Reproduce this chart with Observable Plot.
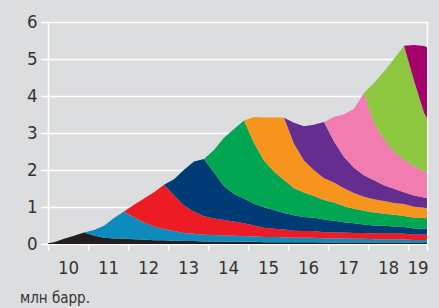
<!DOCTYPE html>
<html><head><meta charset="utf-8">
<script src="https://cdn.jsdelivr.net/npm/d3@7"></script>
<script src="https://cdn.jsdelivr.net/npm/@observablehq/plot@0.6"></script>
<style>
html,body{margin:0;padding:0;background:#dcdddf;width:439px;height:308px;overflow:hidden;}
#chart{position:absolute;left:0;top:0;}
#cap{position:absolute;left:20px;top:289px;font-size:15px;font-family:"Liberation Sans Narrow","DejaVu Sans Condensed","Roboto",sans-serif;font-stretch:condensed;color:#333;}
</style></head><body>
<div id="chart"></div>
<div id="cap">млн барр.</div>
<script>
// quarterly sample dates (fractional years)
const times = [2009.9, 2010.15, 2010.4, 2010.65, 2010.9, 2011.15, 2011.4, 2011.65, 2011.9, 2012.15,
  2012.4, 2012.65, 2012.9, 2013.15, 2013.4, 2013.65, 2013.9, 2014.15, 2014.4, 2014.65,
  2014.9, 2015.15, 2015.4, 2015.65, 2015.9, 2016.15, 2016.4, 2016.65, 2016.9, 2017.15,
  2017.4, 2017.65, 2017.9, 2018.15, 2018.4, 2018.65, 2018.9, 2019.15, 2019.4, 2019.65];

const vintages = ["2010", "2011", "2012", "2013", "2014", "2015", "2016", "2017", "2018", "2019"];
const colors = ["#231f20", "#0d8bbd", "#ed1c24", "#003b75", "#00a651", "#f7941d", "#662d91", "#f07cb0", "#8dc63f", "#a5006b"];

// production by well vintage, mln barrels per day
const s2010 = [0,0.05,0.14,0.22,0.31, 0.23,0.17,0.15,0.14,0.13, 0.12,0.10,0.10,0.09,0.08, 0.08,0.07,0.07,0.07,0.06, 0.06,0.06,0.05,0.05,0.05, 0.05,0.05,0.05,0.04,0.04, 0.04,0.04,0.04,0.04,0.04, 0.04,0.04,0.03,0.03,0.03];
const s2011 = [0,0,0,0,0, 0.15,0.32,0.55,0.74,0.59, 0.46,0.37,0.30,0.26,0.22, 0.20,0.18,0.17,0.16,0.16, 0.15,0.15,0.14,0.14,0.13, 0.12,0.12,0.12,0.11,0.11, 0.11,0.10,0.10,0.09,0.09, 0.09,0.08,0.08,0.08,0.08];
const s2012 = [0,0,0,0,0, 0,0,0,0,0.34, 0.65,0.93,1.20,0.97,0.74, 0.59,0.50,0.45,0.42,0.39, 0.35,0.29,0.25,0.22,0.21, 0.19,0.18,0.18,0.17,0.17, 0.16,0.16,0.16,0.16,0.16, 0.16,0.16,0.15,0.15,0.15];
const s2013 = [0,0,0,0,0, 0,0,0,0,0, 0,0,0,0.43,0.97, 1.36,1.55,1.24,0.91,0.74, 0.67,0.59,0.55,0.51,0.45, 0.42,0.38,0.36,0.34,0.31, 0.28,0.26,0.23,0.21,0.20, 0.18,0.18,0.16,0.16,0.15];
const s2014 = [0,0,0,0,0, 0,0,0,0,0, 0,0,0,0,0, 0,0,0.61,1.31,1.76, 2.11,1.64,1.27,1.04,0.89, 0.73,0.66,0.59,0.53,0.49, 0.43,0.39,0.37,0.35,0.33, 0.32,0.30,0.29,0.28,0.27];
const s2015 = [0,0,0,0,0, 0,0,0,0,0, 0,0,0,0,0, 0,0,0,0,0, 0,0.70,1.16,1.46,1.68, 1.20,0.87,0.69,0.59,0.54, 0.49,0.43,0.38,0.36,0.34, 0.32,0.32,0.30,0.28,0.26];
const s2016 = [0,0,0,0,0, 0,0,0,0,0, 0,0,0,0,0, 0,0,0,0,0, 0,0,0,0,0, 0.57,0.92,1.23,1.52,1.11, 0.84,0.68,0.58,0.51,0.43, 0.38,0.32,0.30,0.28,0.26];
const s2017 = [0,0,0,0,0, 0,0,0,0,0, 0,0,0,0,0, 0,0,0,0,0, 0,0,0,0,0, 0,0,0,0,0.66, 1.16,1.59,2.23,1.55,1.25, 1.01,0.88,0.80,0.71,0.66];
const s2018 = [0,0,0,0,0, 0,0,0,0,0, 0,0,0,0,0, 0,0,0,0,0, 0,0,0,0,0, 0,0,0,0,0, 0,0,0,1.08,1.82, 2.50,3.08,2.31,1.58,1.20];
const s2019 = [0,0,0,0,0, 0,0,0,0,0, 0,0,0,0,0, 0,0,0,0,0, 0,0,0,0,0, 0,0,0,0,0, 0,0,0,0,0, 0,0,0.96,1.80,2.18];

const yTicks = [0, 1, 2, 3, 4, 5, 6];
const yearTicks = [2010, 2011, 2012, 2013, 2014, 2015, 2016, 2017, 2018, 2019];
const yearLabels = ["10", "11", "12", "13", "14", "15", "16", "17", "18", "19"];
const yearLabelPos = [2010.5, 2011.5, 2012.5, 2013.5, 2014.5, 2015.5, 2016.5, 2017.5, 2018.5, 2019.24];
const xEnd = 2019.475;

const series = [s2010, s2011, s2012, s2013, s2014, s2015, s2016, s2017, s2018, s2019];
const data = series.flatMap((s, k) => s.map((v, i) => ({t: times[i], v, vintage: vintages[k]})));

const font = '"Liberation Sans Narrow","DejaVu Sans Condensed","Roboto",sans-serif';
const chart = Plot.plot({
  width: 439, height: 284,
  marginLeft: 48, marginRight: 12, marginTop: 22, marginBottom: 40,
  style: {background: "transparent", fontFamily: font, fontStretch: "condensed", fontSize: "18.5px", color: "#333"},
  x: {domain: [2010, xEnd], axis: null},
  y: {domain: [0, 6], axis: null},
  color: {domain: vintages, range: colors},
  marks: [
    Plot.ruleY(yTicks, {x1: 2010 - 7 / 40, x2: xEnd, stroke: "white", strokeWidth: 1.5}),
    Plot.ruleX([2010, xEnd], {y1: 0, y2: 6, stroke: "white", strokeWidth: 1.5}),
    Plot.areaY(data, {x: "t", y: "v", z: "vintage", fill: "vintage", clip: true}),
    Plot.ruleX([...yearTicks, xEnd], {y1: 0, y2: -7 / 37, stroke: "white", strokeWidth: 1.5}),
    Plot.text(yTicks, {x: 2010, y: d => d, text: d => String(d), dx: -11, textAnchor: "end", fill: "#333", fontSize: 18.5}),
    Plot.text(yearLabels, {x: (d, i) => yearLabelPos[i], y: 0, text: d => d, dy: 24, fill: "#333", fontSize: 18.5})
  ]
});
document.getElementById("chart").appendChild(chart);
</script>
</body></html>
